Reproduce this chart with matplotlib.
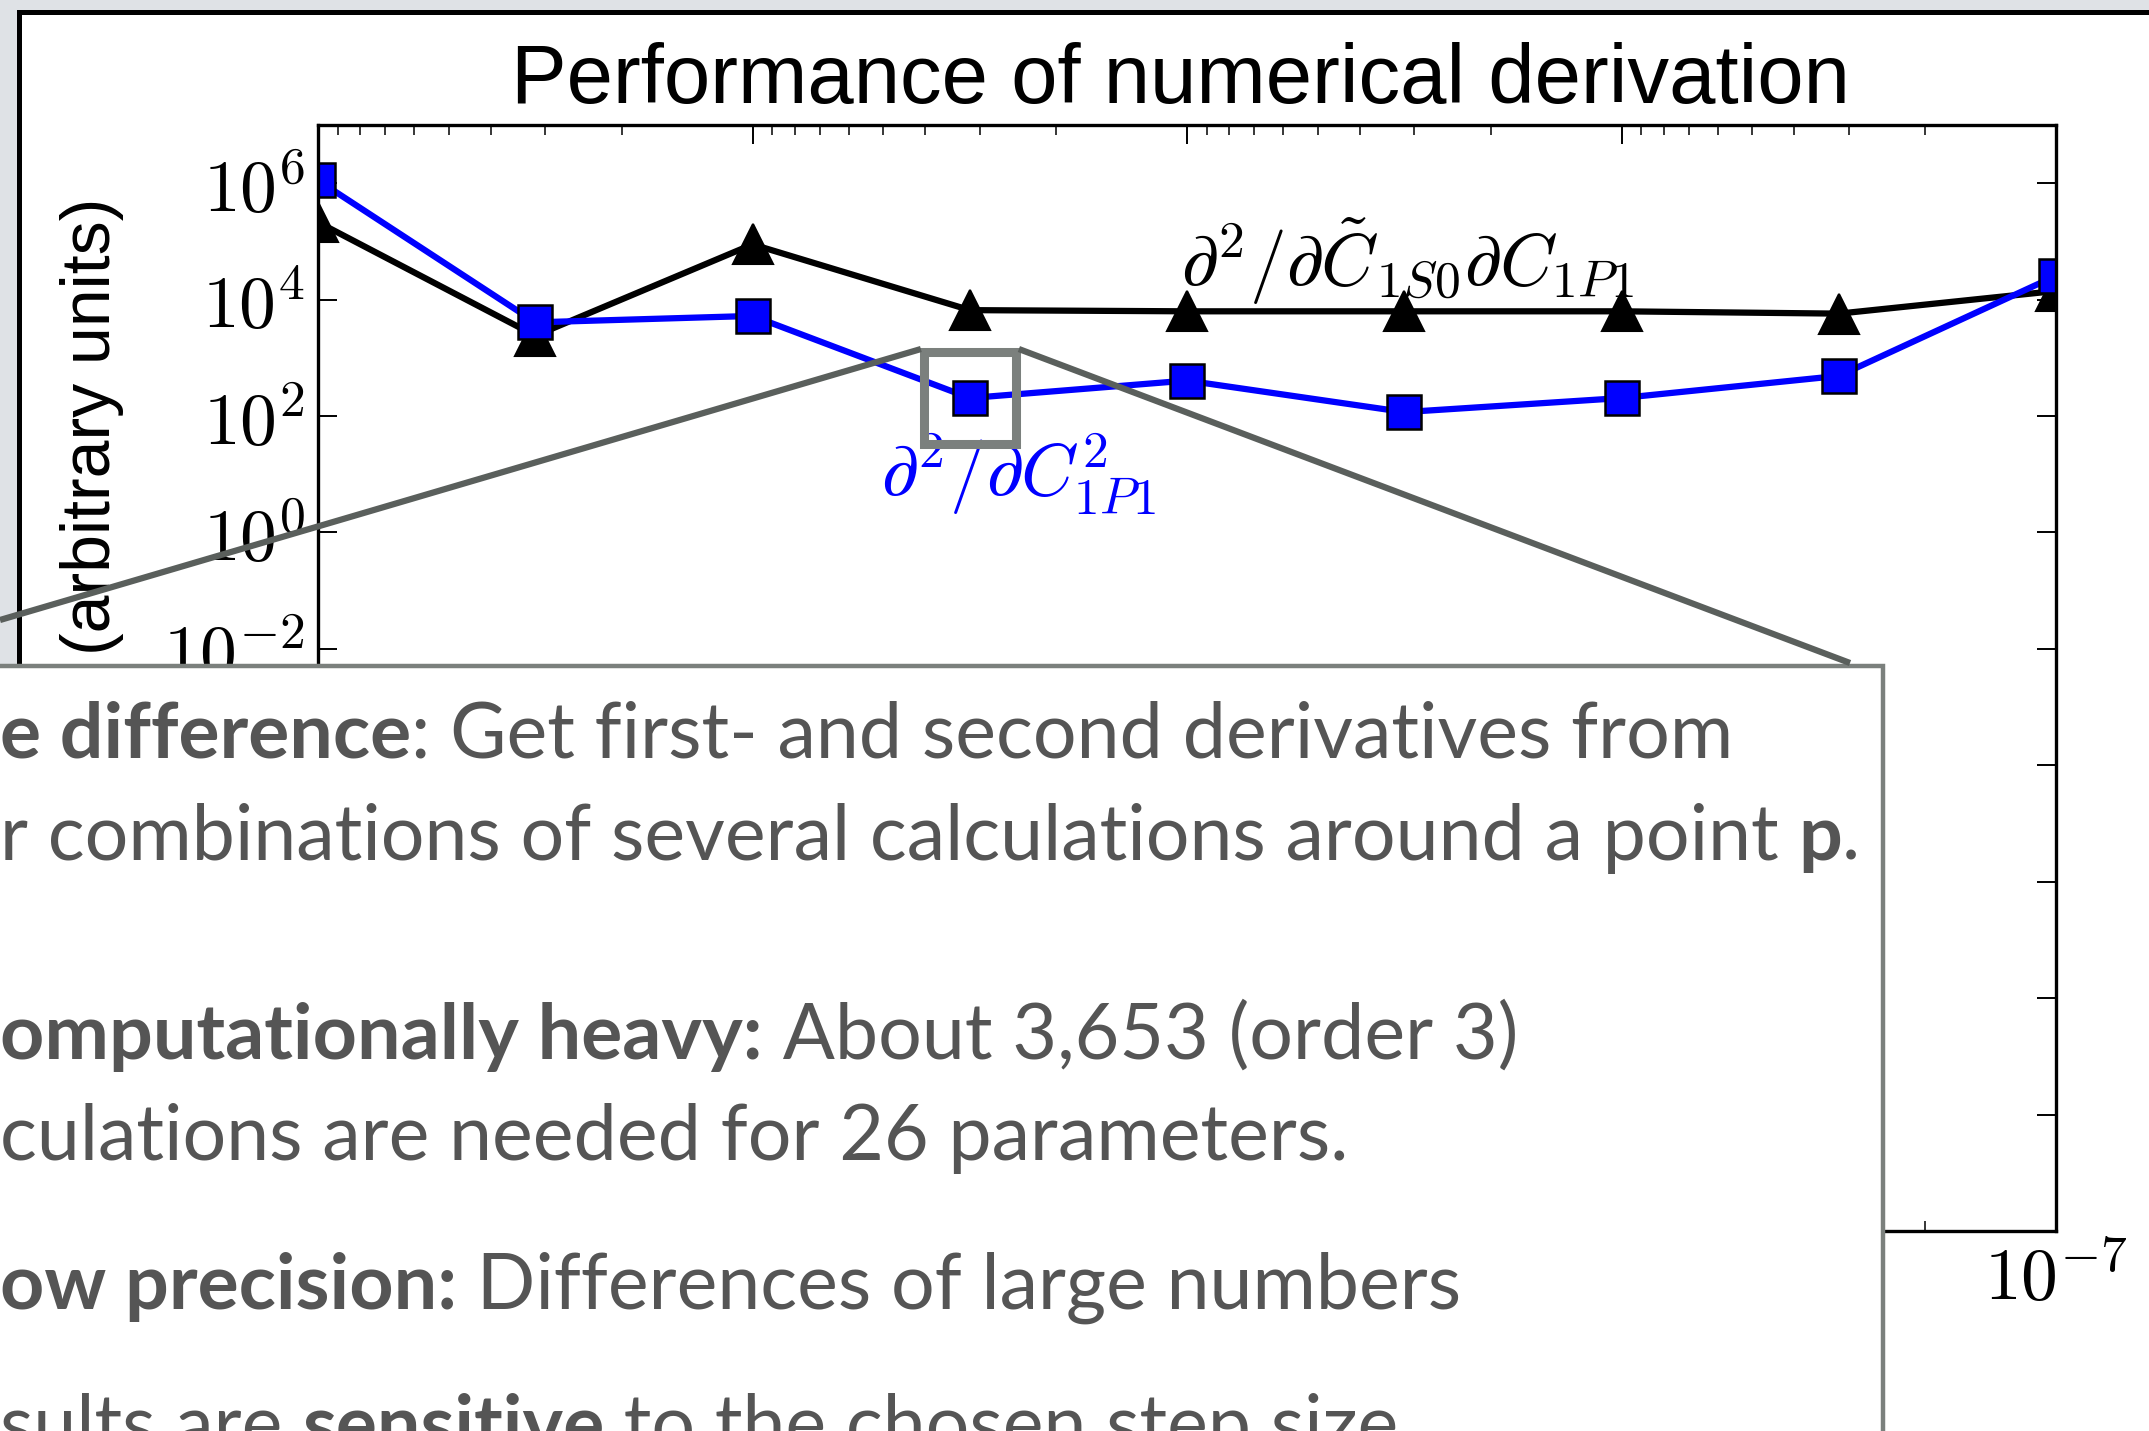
import numpy as np
import matplotlib.pyplot as plt
from matplotlib.patches import Rectangle
from matplotlib.ticker import FixedLocator, LogLocator, NullLocator, NullFormatter

plt.rcParams['mathtext.fontset'] = 'cm'

W, H = 2149, 1431          # canvas size in pixels (dpi 100)

# finite-difference step sizes and the resulting error estimates
step = [1e-3, 3.16e-4, 1e-4, 3.16e-5, 1e-5, 3.16e-6, 1e-6, 3.16e-7, 1e-7]
d2_1p1 = [1.12e6, 4.07e3, 5.25e3, 2.04e2, 4.07e2, 1.17e2, 2.04e2, 4.9e2, 2.57e4]
d2_1s0_1p1 = [2.14e5, 2.4e3, 8.9e4, 6.6e3, 6.3e3, 6.3e3, 6.3e3, 5.75e3, 1.41e4]

yticks = [1e-12, 1e-10, 1e-8, 1e-6, 1e-4, 1e-2, 1e0, 1e2, 1e4, 1e6]
xticks = [1e-3, 1e-4, 1e-5, 1e-6, 1e-7]

fig = plt.figure(figsize=(W / 100, H / 100), dpi=100)

# slide background with the framed chart picture
bg = fig.add_axes([0, 0, 1, 1], zorder=0)
bg.set_xlim(0, W)
bg.set_ylim(H, 0)
bg.axis('off')
bg.add_patch(Rectangle((0, 0), W, H, facecolor='#dfe2e6', edgecolor='none'))
bg.add_patch(Rectangle((19, 12), W, H, facecolor='white', edgecolor='black', linewidth=3.6))

bg.text(1180, 103, 'Performance of numerical derivation', ha='center', va='baseline',
        fontsize=60, family='Liberation Sans', color='black')
bg.text(92, 198, '(arbitrary units)', rotation=90, ha='center', va='top',
        fontsize=49, family='Liberation Sans', color='black')

# the chart itself
ax = fig.add_axes([318 / W, (H - 1231) / H, 1738 / W, 1106 / H], zorder=1)
ax.set_xscale('log')
ax.set_yscale('log')
ax.plot(step, d2_1s0_1p1, '-^', color='black', lw=4.5, ms=29, mec='black', mew=1.5)
ax.plot(step, d2_1p1, '-s', color='blue', lw=4.5, ms=25, mfc='blue', mec='black', mew=1.8)
ax.set_xlim(1e-3, 1e-7)
ax.set_ylim(1e-12, 1e7)

ax.yaxis.set_major_locator(FixedLocator(yticks))
ax.yaxis.set_minor_locator(NullLocator())
ax.set_yticklabels([r'$10^{%d}$' % round(np.log10(v)) for v in yticks])
ax.xaxis.set_major_locator(FixedLocator(xticks))
ax.xaxis.set_minor_locator(LogLocator(base=10, subs=np.arange(2, 10), numticks=60))
ax.xaxis.set_minor_formatter(NullFormatter())
ax.set_xticklabels([r'$10^{%d}$' % round(np.log10(v)) for v in xticks])

ax.tick_params(which='both', direction='in', top=True, right=True, color='black')
ax.tick_params(which='major', length=14, width=1.4, labelsize=53, pad=9)
ax.tick_params(which='minor', length=7, width=1.1)
for s in ax.spines.values():
    s.set_linewidth(2.4)

ax.text(0.4966, 0.8544, r'$\partial^2/\partial\tilde{C}_{1S0}\partial C_{1P1}$',
        transform=ax.transAxes, ha='left', va='baseline', fontsize=53, color='black')
ax.text(0.324, 0.6646, r'$\partial^2/\partial C_{1P1}^2$',
        transform=ax.transAxes, ha='left', va='baseline', fontsize=53, color='blue')

# overlay: zoom box around one point, callout lines and the text panel
ov = fig.add_axes([0, 0, 1, 1], zorder=2)
ov.set_xlim(0, W)
ov.set_ylim(H, 0)
ov.axis('off')
ov.patch.set_alpha(0)

px, py = ax.transData.transform((step[3], d2_1p1[3]))
cx, cy = px, H - py
hb = 46
ov.add_patch(Rectangle((cx - hb, cy - hb), 2 * hb, 2 * hb, facecolor='none',
                       edgecolor='#7b807d', linewidth=6.5))
ov.plot([cx - hb - 3, 0], [cy - hb - 3, 620], color='#5a5f5c', lw=4.5, solid_capstyle='butt')
ov.plot([cx + hb + 3, 1850], [cy - hb - 3, 663], color='#5a5f5c', lw=4.5, solid_capstyle='butt')

ov.add_patch(Rectangle((-20, 666), 1883 + 20, 900, facecolor='white',
                       edgecolor='#7b807d', linewidth=3.2))

txt_color = '#555555'
txt_size = 55.5
lines = [
    (757, [('e difference', 'bold'), (': Get first- and second derivatives from', 'normal')]),
    (860, [('r combinations of several calculations around a point ', 'normal'),
           ('p', 'bold'), ('.', 'normal')]),
    (1059, [('omputationally heavy:', 'bold'), (' About 3,653 (order 3)', 'normal')]),
    (1160, [('culations are needed for 26 parameters.', 'normal')]),
    (1309, [('ow precision:', 'bold'), (' Differences of large numbers', 'normal')]),
    (1450, [('sults are ', 'normal'), ('sensitive', 'bold'), (' to the chosen step size.', 'normal')]),
]

renderer = fig.canvas.get_renderer()


def seg_width(s, weight):
    # width including edge spaces: measure between two bars
    a = ov.text(0, 0, '|' + s + '|', fontsize=txt_size, family=['Lato', 'DejaVu Sans'], weight=weight)
    b = ov.text(0, 0, '||', fontsize=txt_size, family=['Lato', 'DejaVu Sans'], weight=weight)
    w = a.get_window_extent(renderer).width - b.get_window_extent(renderer).width
    a.remove()
    b.remove()
    return w


for y, segs in lines:
    x = 0
    for s, weight in segs:
        ov.text(x, y, s, ha='left', va='baseline', fontsize=txt_size,
                family=['Lato', 'DejaVu Sans'], weight=weight, color=txt_color)
        x += seg_width(s, weight)

fig.savefig('out.png', dpi=100)
